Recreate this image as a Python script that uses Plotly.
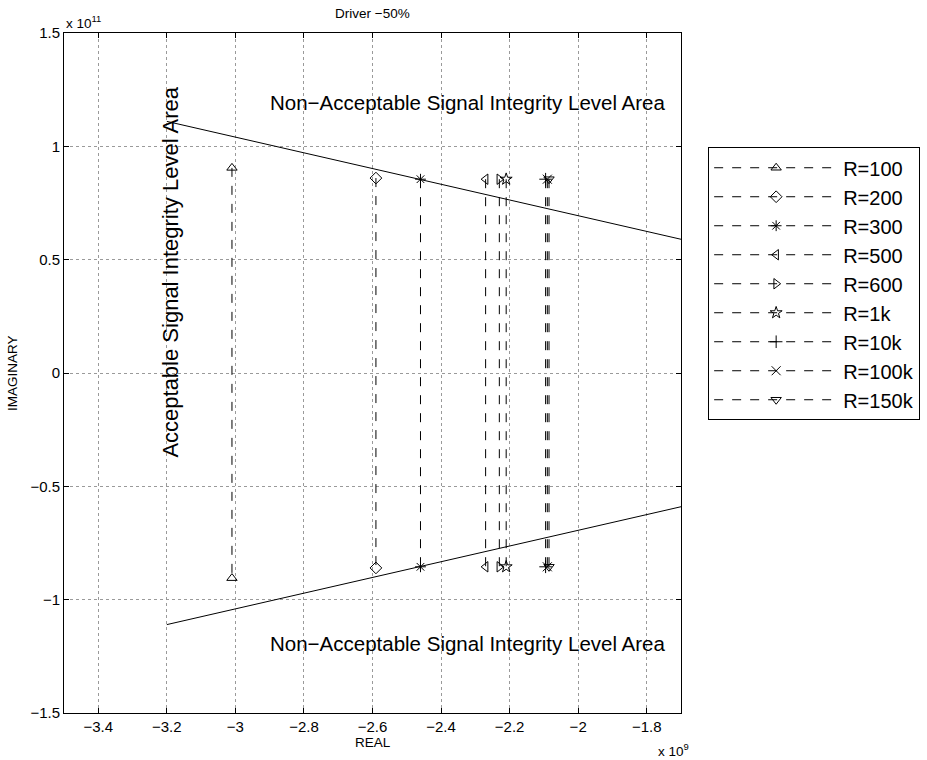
import plotly.graph_objects as go

# Data (real part in units of 1e9, imaginary part in units of 1e11)
labels = ["R=100", "R=200", "R=300", "R=500", "R=600", "R=1k", "R=10k", "R=100k", "R=150k"]
real_part = [-3.01, -2.59, -2.46, -2.27, -2.23, -2.21, -2.095, -2.09, -2.085]
imag_part = [0.905, 0.86, 0.855, 0.855, 0.855, 0.855, 0.855, 0.855, 0.855]
symbols = ["triangle-up-open", "diamond-open", "asterisk-open", "triangle-left-open",
           "triangle-right-open", "star-open", "cross-thin-open", "x-thin-open",
           "triangle-down-open"]

boundary_x = [-3.2, -1.7]
boundary_upper = [1.11, 0.59]
boundary_lower = [-1.11, -0.59]

x_ticks = [-3.4, -3.2, -3.0, -2.8, -2.6, -2.4, -2.2, -2.0, -1.8]
x_ticktext = ["\u22123.4", "\u22123.2", "\u22123", "\u22122.8", "\u22122.6", "\u22122.4", "\u22122.2", "\u22122", "\u22121.8"]
y_ticks = [-1.5, -1.0, -0.5, 0.0, 0.5, 1.0, 1.5]
y_ticktext = ["\u22121.5", "\u22121", "\u22120.5", "0", "0.5", "1", "1.5"]

FONT = "Liberation Sans, Arial, Helvetica, sans-serif"

fig = go.Figure()

for i, (lab, xr, yi, sym) in enumerate(zip(labels, real_part, imag_part, symbols)):
    fig.add_trace(go.Scatter(
        x=[xr, xr], y=[yi, -yi], mode="lines+markers", name=lab,
        legendgroup=lab,
        line=dict(color="black", width=1, dash="dash"),
        marker=dict(symbol=sym, size=9, color="black", line=dict(color="black", width=1)),
    ))

fig.add_trace(go.Scatter(x=boundary_x, y=boundary_upper, mode="lines",
                         line=dict(color="black", width=1), showlegend=False))
fig.add_trace(go.Scatter(x=boundary_x, y=boundary_lower, mode="lines",
                         line=dict(color="black", width=1), showlegend=False))

axis_common = dict(
    showline=True, linecolor="black", linewidth=1, mirror="ticks",
    ticks="inside", ticklen=5, tickcolor="black",
    showgrid=True, gridcolor="#9a9a9a", griddash="dot", gridwidth=1,
    zeroline=False, tickfont=dict(family=FONT, size=15, color="black"),
)

fig.update_layout(
    width=927, height=760,
    margin=dict(l=64, r=246, t=33, b=47, autoexpand=False),
    plot_bgcolor="white", paper_bgcolor="white",
    font=dict(family=FONT, color="black"),
    xaxis=dict(range=[-3.5, -1.7], tickvals=x_ticks, ticktext=x_ticktext, **axis_common),
    yaxis=dict(range=[-1.5, 1.5], tickvals=y_ticks, ticktext=y_ticktext, **axis_common),
    legend=dict(x=1.044, y=0.832, xanchor="left", yanchor="top",
                bordercolor="black", borderwidth=1, bgcolor="white",
                font=dict(family=FONT, size=20, color="black"),
                traceorder="grouped", tracegroupgap=0, itemwidth=124),
    showlegend=True,
)

annotations = [
    dict(text="Driver \u221250%", x=0.5, y=1.0, xref="paper", yref="paper",
         xanchor="center", yanchor="bottom", yshift=10, showarrow=False,
         font=dict(size=13.5)),
    dict(text="REAL", x=0.5, y=0, xref="paper", yref="paper",
         xanchor="center", yanchor="top", yshift=-20, showarrow=False,
         font=dict(size=13.5)),
    dict(text="IMAGINARY", x=0, y=0.5, xref="paper", yref="paper",
         xanchor="center", yanchor="middle", xshift=-52, textangle=-90,
         showarrow=False, font=dict(size=13.5)),
    dict(text="x 10<sup>11</sup>", x=0, y=1, xref="paper", yref="paper",
         xanchor="left", yanchor="bottom", showarrow=False, font=dict(size=13.5)),
    dict(text="x 10<sup>9</sup>", x=1, y=0, xref="paper", yref="paper",
         xanchor="right", yanchor="top", yshift=-26, xshift=10, showarrow=False,
         font=dict(size=13.5)),
    dict(text="Non\u2212Acceptable Signal Integrity Level Area", x=-2.905, y=1.195,
         xanchor="left", yanchor="middle", showarrow=False, font=dict(size=20.5)),
    dict(text="Non\u2212Acceptable Signal Integrity Level Area", x=-2.905, y=-1.192,
         xanchor="left", yanchor="middle", showarrow=False, font=dict(size=20.5)),
    dict(text="Acceptable Signal Integrity Level Area", x=-3.19, y=0.444,
         xanchor="center", yanchor="middle", textangle=-90, showarrow=False,
         font=dict(size=22)),
]
fig.update_layout(annotations=annotations)

fig.write_html("out.html")
